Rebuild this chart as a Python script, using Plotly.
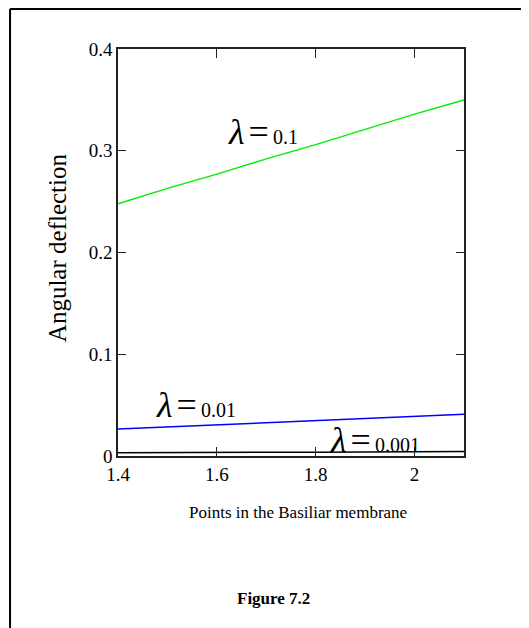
import plotly.graph_objects as go

# Data
x_points = [1.4, 1.5, 1.6, 1.7, 1.8, 1.9, 2.0, 2.1]
lam_01 = [0.248, 0.263, 0.277, 0.292, 0.306, 0.321, 0.336, 0.350]
lam_001 = [0.0265, 0.0286, 0.0307, 0.0328, 0.0348, 0.0369, 0.0390, 0.0410]
lam_0001 = [0.0032, 0.0032, 0.0034, 0.0036, 0.0038, 0.0040, 0.0042, 0.0043]

x_tickvals = [1.4, 1.6, 1.8, 2.0]
x_ticktext = ["1.4", "1.6", "1.8", "2"]
y_tickvals = [0, 0.1, 0.2, 0.3, 0.4]
y_ticktext = ["0", "0.1", "0.2", "0.3", "0.4"]

labels = ["0.1", "0.01", "0.001"]
label_x = [1.619, 1.473, 1.824]
label_y = [0.318, 0.050, 0.0157]

FONT = "Liberation Serif"

fig = go.Figure()
fig.add_trace(go.Scatter(x=x_points, y=lam_01, mode="lines",
                         line=dict(color="#00ee00", width=1.5), showlegend=False))
fig.add_trace(go.Scatter(x=x_points, y=lam_001, mode="lines",
                         line=dict(color="#0000ff", width=1.5), showlegend=False))
fig.add_trace(go.Scatter(x=x_points, y=lam_0001, mode="lines",
                         line=dict(color="#000000", width=1.5), showlegend=False))

for t, xx, yy in zip(labels, label_x, label_y):
    fig.add_annotation(
        x=xx, y=yy, xref="x", yref="y", xanchor="left", yanchor="middle",
        showarrow=False,
        text="<i><span style='font-size:36px'>λ</span></i>\u2009"
             "<span style='font-size:36px'>=</span>\u2009" + t,
        font=dict(family=FONT, size=20, color="black"),
    )

# axis titles and caption
fig.add_annotation(x=0.52, y=-0.140, xref="paper", yref="paper",
                   text="Points in the Basiliar membrane", showarrow=False,
                   font=dict(family=FONT, size=17, color="black"),
                   xanchor="center", yanchor="middle")
fig.add_annotation(x=-0.176, y=0.511, xref="paper", yref="paper",
                   text="Angular deflection", showarrow=False, textangle=-90,
                   font=dict(family=FONT, size=25, color="black"),
                   xanchor="center", yanchor="middle")
fig.add_annotation(x=0.448, y=-0.349, xref="paper", yref="paper",
                   text="<b>Figure 7.2</b>", showarrow=False,
                   font=dict(family=FONT, size=17, color="black"),
                   xanchor="center", yanchor="middle")

# outer frame (open at the bottom)
fig.add_shape(type="line", xref="paper", yref="paper",
              x0=-0.312, y0=-0.47, x1=-0.312, y1=1.0983,
              line=dict(color="black", width=2))
fig.add_shape(type="line", xref="paper", yref="paper",
              x0=-0.312, y0=1.0983, x1=1.173, y1=1.0983,
              line=dict(color="black", width=2))
fig.add_shape(type="line", xref="paper", yref="paper",
              x0=1.173, y0=-0.47, x1=1.173, y1=1.0983,
              line=dict(color="black", width=2))

fig.update_xaxes(range=[1.4, 2.1], tickvals=x_tickvals, ticktext=x_ticktext,
                 showgrid=False, zeroline=False, showline=True, linecolor="#222",
                 linewidth=1.5, mirror="ticks", ticks="inside", ticklen=9,
                 tickcolor="#222", tickwidth=1,
                 tickfont=dict(family=FONT, size=19, color="black"))
fig.update_yaxes(range=[0, 0.4], tickvals=y_tickvals, ticktext=y_ticktext,
                 showgrid=False, zeroline=False, showline=True, linecolor="#222",
                 linewidth=1.5, mirror="ticks", ticks="inside", ticklen=8,
                 tickcolor="#222", tickwidth=1,
                 tickfont=dict(family=FONT, size=19, color="black"))

# the page body adds an 8px offset, so margins are reduced accordingly
fig.update_layout(width=529, height=628,
                  font=dict(family=FONT, color="black"),
                  margin=dict(l=110, r=73, t=41, b=180),
                  paper_bgcolor="white", plot_bgcolor="white",
                  showlegend=False)

fig.write_html("out.html")
